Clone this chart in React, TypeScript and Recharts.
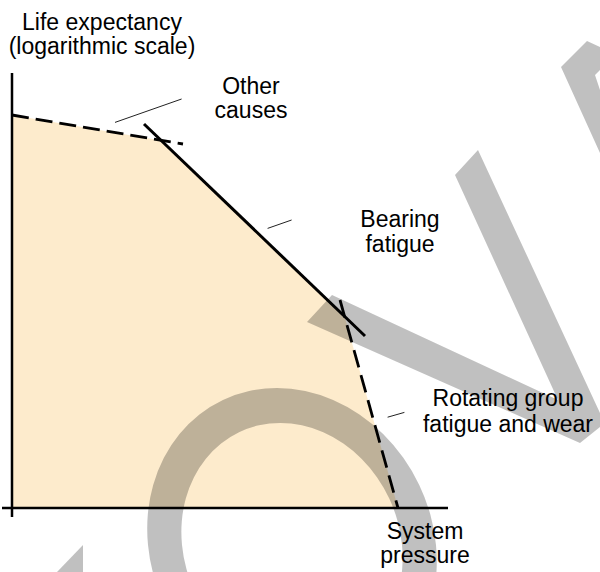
import React from 'react';
import { ComposedChart, Area, Line, XAxis, YAxis, ReferenceLine, Customized } from 'recharts';

// Envelope of the allowed operating region (system pressure vs. life expectancy, arbitrary units)
const envelopePressure = [0, 37.25, 83.15, 96.5];
const envelopeLife = [98.25, 91.9, 47.9, 0];

// Limiting curves
const otherCausesPressure = [0, 42.75];
const otherCausesLife = [98.25, 91];
const bearingPressure = [33, 88.25];
const bearingLife = [96, 43];
const rotatingPressure = [82, 96.5];
const rotatingLife = [52, 0];

// Leader lines from labels to curves
const otherLeaderPressure = [25.75, 42.4];
const otherLeaderLife = [96.4, 102.25];
const bearingLeaderPressure = [63.9, 69.9];
const bearingLeaderLife = [69.9, 72];
const rotatingLeaderPressure = [93.9, 98.1];
const rotatingLeaderLife = [22.7, 23.9];

// Texts
const yAxisTitle = ['Life expectancy', '(logarithmic scale)'];
const xAxisTitle = ['System', 'pressure'];
const otherLabel = ['Other', 'causes'];
const bearingLabel = ['Bearing', 'fatigue'];
const rotatingLabel = ['Rotating group', 'fatigue and wear'];

const xDomain: [number, number] = [-2.5, 109];
const yDomain: [number, number] = [-2.25, 108.75];

const zip = (xs: number[], ys: number[]) => xs.map((x, i) => ({ x, y: ys[i] }));

const FONT = '"Liberation Sans", Arial, Helvetica, sans-serif';
const FS = 23;

const TwoLine = ({ lines, x, y, lh }: { lines: string[]; x: number; y: number; lh: number }) => (
  <g>
    {lines.map((l, i) => (
      <text
        key={i}
        x={x}
        y={y + i * lh}
        textAnchor="middle"
        fontFamily={FONT}
        fontSize={FS}
        fill="#000"
      >
        {l}
      </text>
    ))}
  </g>
);

const Labels = () => (
  <g>
    <TwoLine lines={yAxisTitle} x={102} y={30} lh={24} />
    <TwoLine lines={otherLabel} x={251} y={94} lh={24} />
    <TwoLine lines={bearingLabel} x={400} y={227} lh={25} />
    <TwoLine lines={rotatingLabel} x={508} y={406} lh={26} />
    <TwoLine lines={xAxisTitle} x={425} y={539} lh={24} />
  </g>
);

const Watermark = () => (
  <svg
    width={600}
    height={572}
    style={{ position: 'absolute', left: 0, top: 0, pointerEvents: 'none' }}
  >
    <g fill="#000" fillOpacity={0.247}>
      <polygon points="455,175 478,150 600,413 600,427 580,443 307,322 332,295 558,400" />
      <polygon points="561,67 587,41 600,47 600,70 595,75 600,90 600,153" />
      <polygon points="83,545 83,572 57,572" />
      <path
        transform="translate(292,545) skewX(5.5)"
        fillRule="evenodd"
        d="M -144 0 A 144 157 0 1 0 144 0 A 144 157 0 1 0 -144 0 Z M -110 0 A 110 122 0 1 0 110 0 A 110 122 0 1 0 -110 0 Z"
      />
    </g>
  </svg>
);

export default function App() {
  return (
    <div style={{ position: 'absolute', left: 0, top: 0, width: 600, height: 572, background: '#fff' }}>
      <ComposedChart
        width={600}
        height={572}
        margin={{ top: 73, right: 152, bottom: 55, left: 2 }}
      >
        <XAxis type="number" dataKey="x" domain={xDomain} hide allowDataOverflow />
        <YAxis type="number" dataKey="y" domain={yDomain} hide allowDataOverflow />
        <Area
          data={zip(envelopePressure, envelopeLife)}
          dataKey="y"
          type="linear"
          baseValue={0}
          fill="#FDEBCC"
          fillOpacity={1}
          stroke="none"
          isAnimationActive={false}
          dot={false}
          activeDot={false}
        />
        <ReferenceLine
          segment={[{ x: 0, y: yDomain[0] }, { x: 0, y: yDomain[1] }]}
          stroke="#000"
          strokeWidth={2.5}
          ifOverflow="visible"
        />
        <ReferenceLine
          segment={[{ x: xDomain[0], y: 0 }, { x: xDomain[1], y: 0 }]}
          stroke="#000"
          strokeWidth={2.5}
          ifOverflow="visible"
        />
        <Line
          data={zip(otherCausesPressure, otherCausesLife)}
          dataKey="y"
          type="linear"
          stroke="#000"
          strokeWidth={2.8}
          strokeDasharray="17 7"
          dot={false}
          activeDot={false}
          isAnimationActive={false}
        />
        <Line
          data={zip(bearingPressure, bearingLife)}
          dataKey="y"
          type="linear"
          stroke="#000"
          strokeWidth={3}
          dot={false}
          activeDot={false}
          isAnimationActive={false}
        />
        <Line
          data={zip(rotatingPressure, rotatingLife)}
          dataKey="y"
          type="linear"
          stroke="#000"
          strokeWidth={2.8}
          strokeDasharray="18 8"
          dot={false}
          activeDot={false}
          isAnimationActive={false}
        />
        <Line
          data={zip(otherLeaderPressure, otherLeaderLife)}
          dataKey="y"
          type="linear"
          stroke="#222"
          strokeWidth={1}
          dot={false}
          activeDot={false}
          isAnimationActive={false}
        />
        <Line
          data={zip(bearingLeaderPressure, bearingLeaderLife)}
          dataKey="y"
          type="linear"
          stroke="#222"
          strokeWidth={1}
          dot={false}
          activeDot={false}
          isAnimationActive={false}
        />
        <Line
          data={zip(rotatingLeaderPressure, rotatingLeaderLife)}
          dataKey="y"
          type="linear"
          stroke="#222"
          strokeWidth={1}
          dot={false}
          activeDot={false}
          isAnimationActive={false}
        />
        <Customized component={Labels} />
      </ComposedChart>
      <Watermark />
    </div>
  );
}
